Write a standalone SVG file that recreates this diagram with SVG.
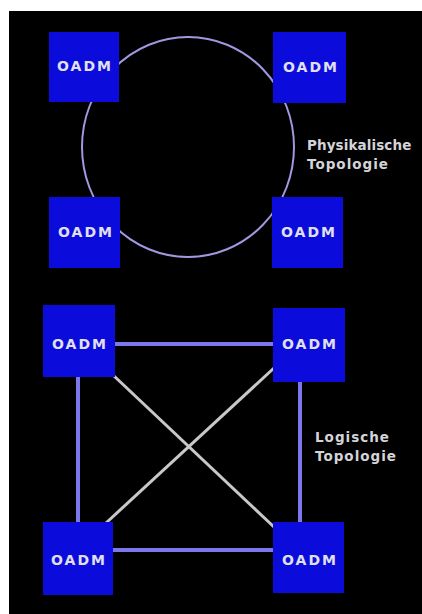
<svg xmlns="http://www.w3.org/2000/svg" width="422" height="614" viewBox="0 0 422 614">
  <style>
    .node rect { fill: #0b0bdc; }
    .node text { font-family: "DejaVu Sans", "Liberation Sans", sans-serif; font-weight: bold; font-size: 14px; fill: #e0e0ee; text-anchor: middle; letter-spacing: 2px; }
    .label { font-family: "DejaVu Sans", "Liberation Sans", sans-serif; font-weight: bold; font-size: 13.5px; fill: #d4d4d8; letter-spacing: 1px; }
    .ring { fill: none; stroke: #a098e0; stroke-width: 2; }
    .link { stroke: #7c78ec; stroke-width: 4; }
    .cross { stroke: #c8c8c8; stroke-width: 3; }
  </style>
  <rect x="0" y="0" width="422" height="614" fill="#ffffff"/>
  <rect x="9" y="11" width="413" height="603" fill="#000000"/>
  <g id="connectors">
    <ellipse class="ring" cx="188" cy="147" rx="106" ry="110"/>
    <line class="link" x1="115" y1="344" x2="273" y2="344"/>
    <line class="link" x1="78" y1="377" x2="78" y2="522"/>
    <line class="link" x1="300" y1="382" x2="300" y2="522"/>
    <line class="link" x1="113" y1="550" x2="273" y2="550"/>
    <line class="cross" x1="113" y1="375" x2="274" y2="527"/>
    <line class="cross" x1="274" y1="368" x2="106" y2="523"/>
  </g>
  <g id="p-tl" class="node"><rect x="49" y="32" width="70" height="70"/><text x="85" y="71">OADM</text></g>
  <g id="p-tr" class="node"><rect x="273" y="32" width="73" height="71"/><text x="311" y="72">OADM</text></g>
  <g id="p-bl" class="node"><rect x="49" y="197" width="71" height="71"/><text x="86" y="237">OADM</text></g>
  <g id="p-br" class="node"><rect x="272" y="197" width="71" height="71"/><text x="309" y="237">OADM</text></g>
  <g id="l-tl" class="node"><rect x="43" y="305" width="72" height="72"/><text x="80" y="349">OADM</text></g>
  <g id="l-tr" class="node"><rect x="273" y="308" width="72" height="74"/><text x="310" y="349">OADM</text></g>
  <g id="l-bl" class="node"><rect x="43" y="522" width="70" height="73"/><text x="79" y="565">OADM</text></g>
  <g id="l-br" class="node"><rect x="273" y="522" width="71" height="71"/><text x="310" y="565">OADM</text></g>
  <g id="labels">
    <text class="label" x="307" y="150" style="letter-spacing:0.1px">Physikalische</text>
    <text class="label" x="307" y="169">Topologie</text>
    <text class="label" x="315" y="442">Logische</text>
    <text class="label" x="315" y="461">Topologie</text>
  </g>
</svg>
